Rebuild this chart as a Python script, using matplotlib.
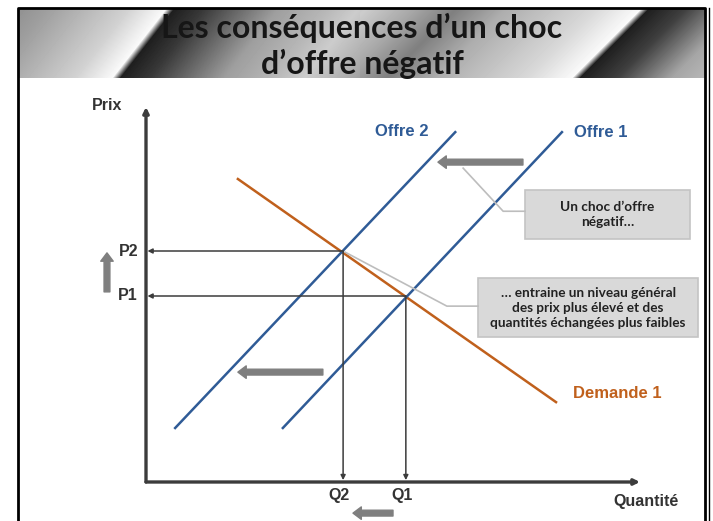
import matplotlib.pyplot as plt
import numpy as np
from matplotlib.patches import Rectangle

# --- données du schéma (unités arbitraires : quantité 0..10, prix 0..10) ---
demande_q = [1.86, 8.30]
demande_p = [8.08, 2.13]
offre1_q = [2.77, 8.42]
offre1_p = [1.44, 9.33]
offre2_q = [0.59, 6.26]
offre2_p = [1.44, 9.33]

eq_q = [5.26, 3.99]          # Q1, Q2
eq_p = [4.96, 6.16]          # P1, P2
q_labels = ["Q1", "Q2"]
p_labels = ["P1", "P2"]

# flèches de déplacement (queue -> tête)
shift_arrows = [
    [(7.63, 8.53), (5.91, 8.53)],    # offre vers la gauche (haut)
    [(3.58, 2.93), (1.86, 2.93)],    # offre vers la gauche (bas)
    [(-0.79, 5.07), (-0.79, 6.11)],  # hausse du prix
    [(5.00, -0.83), (4.19, -0.83)],  # baisse de la quantité
]

titre = "Les conséquences d’un choc\nd’offre négatif"
note1 = "Un choc d’offre\nnégatif…"
note2 = "… entraine un niveau général\ndes prix plus élevé et des\nquantités échangées plus faibles"

BLUE = "#2f5b96"
ORANGE = "#c0601c"
DARK = "#3c3c3c"
GREY = "#7f7f7f"

W, H = 713, 521
fig = plt.figure(figsize=(W / 100, H / 100), dpi=100)

# bandeau de titre avec un dégradé diagonal
bx = fig.add_axes([19 / W, 1 - 78 / H, (705 - 19) / W, 69 / H])
xx, yy = np.meshgrid(np.arange(19, 705), np.arange(9, 78))
k = np.where(xx < 360, 0.78, 1.0)
u = xx + k * (yy - 44)
prof_u = [-20, 19, 100, 138, 146, 175, 250, 300, 330, 380, 420, 470, 560, 605, 613, 650, 705, 740]
prof_v = [0.55, 0.62, 0.82, 0.98, 0.12, 0.22, 0.62, 0.72, 0.8, 0.65, 0.5, 0.68, 0.85, 0.98,
          0.12, 0.25, 0.65, 0.72]
shade = np.interp(u, prof_u, prof_v)
bx.imshow(shade, cmap="gray", vmin=0, vmax=1, aspect="auto",
          extent=[19, 705, 78, 9], interpolation="bilinear")
bx.set_xlim(19, 705)
bx.set_ylim(78, 9)
bx.axis("off")
bx.text(362, 46, titre, ha="center", va="center", fontsize=23, fontweight="bold",
        family="Lato", color="#161616", linespacing=1.22)

# cadre de la diapositive
frame = fig.add_axes([0, 0, 1, 1], facecolor="none")
frame.set_xlim(0, W)
frame.set_ylim(H, 0)
frame.axis("off")
frame.plot([18, 18, 705, 705], [H, 8, 8, H], color="black", lw=2)
frame.plot([709, 709], [8, H], color="black", lw=1)

# axes du graphique
ax = fig.add_axes([146 / W, 39 / H, 494 / W, 375 / H])
ax.set_xlim(0, 10)
ax.set_ylim(0, 10)
ax.axis("off")

for end in [(0, 10), (10, 0)]:
    ax.annotate("", xy=end, xytext=(0, 0),
                arrowprops=dict(arrowstyle="-|>", color=DARK, lw=2.4,
                                mutation_scale=8, shrinkA=0, shrinkB=0))

# courbes
ax.plot(demande_q, demande_p, color=ORANGE, lw=1.8)
ax.plot(offre1_q, offre1_p, color=BLUE, lw=1.8)
ax.plot(offre2_q, offre2_p, color=BLUE, lw=1.8)

# lignes de projection vers les axes
for q, p in zip(eq_q, eq_p):
    ax.annotate("", xy=(0.03, p), xytext=(q, p),
                arrowprops=dict(arrowstyle="-|>", color=DARK, lw=1.1,
                                mutation_scale=7, shrinkA=0, shrinkB=0))
    ax.annotate("", xy=(q, 0.05), xytext=(q, p),
                arrowprops=dict(arrowstyle="-|>", color=DARK, lw=1.1,
                                mutation_scale=7, shrinkA=0, shrinkB=0))

lab = dict(fontsize=11.5, fontweight="bold", family="Liberation Sans",
           color="#333333", clip_on=False)
for q, t in zip(eq_q, q_labels):
    ax.text(q - 0.08, -0.36, t, ha="center", va="center", **lab)
for p, t in zip(eq_p, p_labels):
    ax.text(-0.16, p, t, ha="right", va="center", **lab)
ax.text(-0.79, 10.05, "Prix", ha="center", va="center", **lab)
ax.text(10.12, -0.53, "Quantité", ha="center", va="center", **lab)

curve_lab = dict(fontsize=12, fontweight="bold", family="Liberation Sans",
                 va="center", ha="center", clip_on=False)
ax.text(5.18, 9.36, "Offre 2", color=BLUE, **curve_lab)
ax.text(9.21, 9.33, "Offre 1", color=BLUE, **curve_lab)
ax.text(9.55, 2.37, "Demande 1", color=ORANGE, **curve_lab)

# flèches grises épaisses
for tail, head in shift_arrows:
    ax.annotate("", xy=head, xytext=tail, annotation_clip=False,
                arrowprops=dict(arrowstyle="simple,head_width=0.9,head_length=0.6,tail_width=0.42",
                                color=GREY, mutation_scale=10, shrinkA=0, shrinkB=0))

# encadrés explicatifs et leurs traits de liaison
ax.plot([6.42, 7.23, 7.67], [8.37, 7.22, 7.22], color="#bdbdbd", lw=1.2, clip_on=False)
ax.plot([4.03, 6.09, 6.72], [6.13, 4.69, 4.69], color="#bdbdbd", lw=1.2, clip_on=False)

ax.add_patch(Rectangle((7.67, 6.48), 3.34, 1.31, facecolor="#d9d9d9",
                       edgecolor="#c4c4c4", lw=1.2, clip_on=False))
ax.text(9.34, 7.13, note1, ha="center", va="center", fontsize=9.8,
        fontweight="bold", family="Lato", color="#222222", linespacing=1.3,
        clip_on=False)
ax.add_patch(Rectangle((6.72, 3.87), 4.45, 1.57, facecolor="#d9d9d9",
                       edgecolor="#c4c4c4", lw=1.2, clip_on=False))
ax.text(8.95, 4.65, note2, ha="center", va="center", fontsize=9.8,
        fontweight="bold", family="Lato", color="#222222", linespacing=1.3,
        clip_on=False)

fig.savefig("out.png", dpi=100)
